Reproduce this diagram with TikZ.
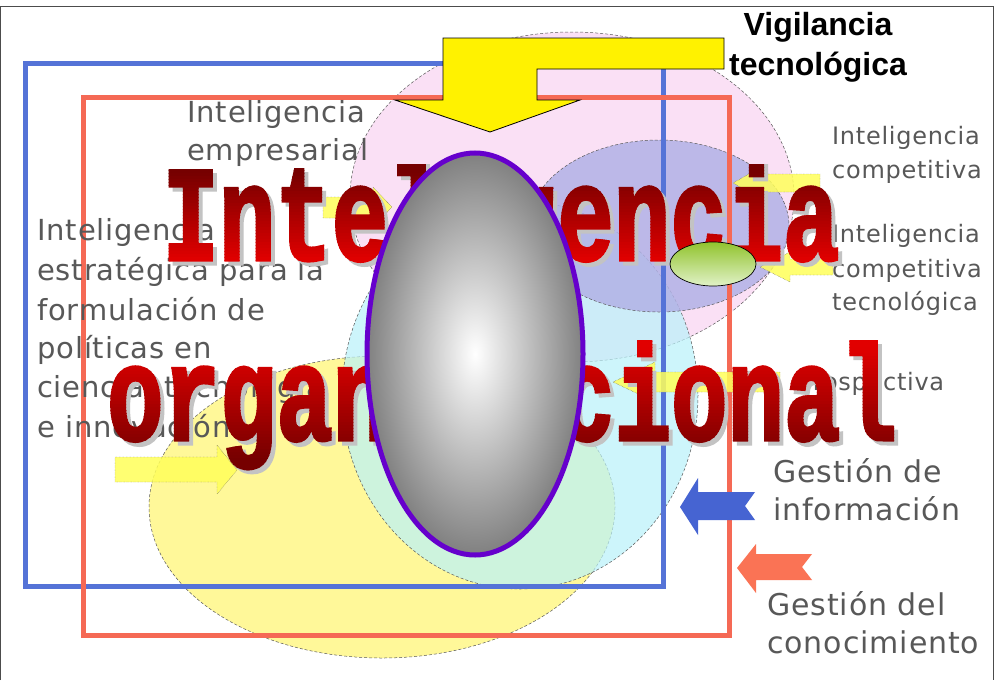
\documentclass[tikz,border=0pt]{standalone}
\usepackage{fontspec}
\usepackage{graphicx}
\setmainfont{Liberation Sans}
\newfontfamily\bigmono[BoldFeatures={FakeBold=2.5}]{Liberation Mono}
\newfontfamily\spaced[LetterSpace=3]{DejaVu Sans}
\definecolor{pinkfill}{RGB}{250,224,245}
\definecolor{lavfill}{RGB}{178,178,230}
\definecolor{cyanfill}{RGB}{185,242,250}
\definecolor{yelfill}{RGB}{255,246,120}
\definecolor{blueline}{RGB}{85,115,215}
\definecolor{redline}{RGB}{245,105,85}
\definecolor{graytext}{RGB}{88,88,88}
\definecolor{brightred}{RGB}{225,0,0}
\definecolor{deepred}{RGB}{118,0,0}
\definecolor{shadowgray}{RGB}{195,195,195}
\definecolor{purpleedge}{RGB}{102,0,204}
\definecolor{midgray}{RGB}{128,128,128}
\definecolor{greentop}{RGB}{145,195,45}
\definecolor{greenbot}{RGB}{225,242,200}
\definecolor{arrowyellow}{RGB}{255,255,90}
\definecolor{arrowblue}{RGB}{70,100,210}
\definecolor{arrowred}{RGB}{250,115,85}
\tikzset{
  bubble/.style={draw=gray!70!black, densely dashed, line width=0.5},
  framerect/.style={line width=5},
  graylbl/.style={font=\spaced\fontsize{29}{29}\selectfont, text=graytext, inner sep=0, anchor=base west},
  graysmall/.style={graylbl, font=\spaced\fontsize{24}{24}\selectfont},
  graybig/.style={graylbl, font=\spaced\fontsize{30}{30}\selectfont},
  bigword/.style={font=\bigmono\bfseries\fontsize{94}{94}\selectfont, inner sep=0, anchor=base},
  smallarrow/.style={draw=gray!60!black, densely dotted, line width=0.4, fill opacity=0.85},
  titletext/.style={font=\bfseries\fontsize{32}{32}\selectfont, inner sep=0, anchor=base}
}
\begin{document}
\begin{tikzpicture}[x=1pt,y=-1pt]
\useasboundingbox (0,0) rectangle (995,680);
\fill[white] (0,0) rectangle (995,680);
% page frame
\draw[gray!60!black, line width=1] (0.5,680) -- (0.5,6) -- (993.5,6) -- (993.5,680);
% bubbles
\fill[pinkfill] (572,197) ellipse [x radius=222, y radius=165];
\draw[bubble] (572,197) ellipse [x radius=222, y radius=165];
\fill[yelfill, fill opacity=0.75] (382,507) ellipse [x radius=233, y radius=151];
\draw[bubble] (382,507) ellipse [x radius=233, y radius=151];
\fill[cyanfill, fill opacity=0.7] (520,395) ellipse [x radius=178, y radius=194];
\draw[bubble] (520,395) ellipse [x radius=178, y radius=194];
\fill[lavfill, fill opacity=0.85] (659,226) ellipse [x radius=130, y radius=86];
\draw[bubble] (659,226) ellipse [x radius=130, y radius=86];
% frames
\draw[framerect, blueline] (25,63) rectangle (663,586);
\draw[framerect, redline] (83,97) rectangle (729,635);
% gray labels
\node[graylbl] (emp1) at (187,122) {Inteligencia};
\node[graylbl] (emp2) at (187,160) {empresarial};
\node[graylbl] (est1) at (37,240) {Inteligencia};
\node[graylbl] (est2) at (37,280) {estratégica para la};
\node[graylbl] (est3) at (37,320) {formulación de};
\node[graylbl] (est4) at (37,358) {políticas en};
\node[graylbl] (est5) at (37,397) {ciencia, tecnología};
\node[graylbl] (est6) at (37,437) {e innovación};
\node[graysmall] (comp1) at (832,144) {Inteligencia};
\node[graysmall] (comp2) at (832,178) {competitiva};
\node[graysmall] (ctec1) at (832,242) {Inteligencia};
\node[graysmall] (ctec2) at (832,277) {competitiva};
\node[graysmall] (ctec3) at (832,310) {tecnológica};
\node[graysmall] (prosp) at (798,390) {Prospectiva};
\node[graybig] (ginf1) at (773,482) {Gestión de};
\node[graybig] (ginf2) at (773,520) {información};
\node[graybig] (gcon1) at (767,615) {Gestión del};
\node[graybig] (gcon2) at (767,653) {conocimiento};
% small arrows
\draw[smallarrow, fill=arrowyellow] (323,197) -- (373,197) -- (373,187) -- (392,207) -- (373,228) -- (373,218) -- (323,218) -- cycle;
\draw[smallarrow, fill=arrowyellow] (733,183) -- (763,166) -- (763,174) -- (820,174) -- (820,192) -- (763,192) -- (763,200) -- cycle;
\draw[smallarrow, fill=arrowyellow] (760,267) -- (790,252) -- (790,259) -- (833,259) -- (833,275) -- (790,275) -- (790,282) -- cycle;
\draw[smallarrow, fill=arrowyellow] (613,382) -- (655,362) -- (655,372) -- (780,372) -- (780,392) -- (655,392) -- (655,402) -- cycle;
\draw[smallarrow, fill=arrowyellow] (115,457) -- (217,457) -- (217,445) -- (237,470) -- (217,494) -- (217,482) -- (115,482) -- cycle;
\fill[arrowblue] (680,507) -- (698,478) -- (698,492) -- (755,492) -- (745,506) -- (755,520) -- (698,520) -- (698,535) -- cycle;
\fill[arrowred] (737,568) -- (756,544) -- (756,554) -- (812,554) -- (802,567) -- (812,580) -- (756,580) -- (756,593) -- cycle;
% big title with shadow and vertical gradient
\node[bigword, text=shadowgray] (inteshadow) at (505,264) {\scalebox{1}[1.44]{Inteligencia}};
\node[bigword, text=shadowgray] (orgshadow) at (506,444) {\scalebox{1}[1.44]{organizacional}};
\foreach \ys in {164,167,...,298} {
  \pgfmathtruncatemacro\p{max(0,min(100,(\ys+1.5-172)/88*100))}
  \begin{scope}
    \clip (140,\ys) rectangle (870,\ys+3.4);
    \node[bigword, text=brightred!\p!deepred] (inte\ys) at (501,260) {\scalebox{1}[1.44]{Inteligencia}};
  \end{scope}
}
\foreach \ys in {335,338,...,486} {
  \pgfmathtruncatemacro\p{max(0,min(100,(460-\ys-1.5)/112*100))}
  \begin{scope}
    \clip (90,\ys) rectangle (920,\ys+3.4);
    \node[bigword, text=brightred!\p!deepred] (org\ys) at (502,440) {\scalebox{1}[1.44]{organizacional}};
  \end{scope}
}
% central egg
\shadedraw[draw=purpleedge, line width=5, inner color=white, outer color=midgray] (475,354) ellipse [x radius=108, y radius=201];
% small green ellipse
\shadedraw[draw=black, line width=0.7, top color=greentop, bottom color=greenbot] (713,264) ellipse [x radius=43, y radius=22];
% big yellow arrow
\draw[line width=0.8, fill=yellow] (443,38) -- (724,38) -- (724,69) -- (537,69) -- (537,100) -- (580,100) -- (490,132) -- (395,100) -- (443,100) -- cycle;
\node[titletext] (vig1) at (818,35) {Vigilancia};
\node[titletext] (vig2) at (818,75) {tecnológica};
\end{tikzpicture}
\end{document}
